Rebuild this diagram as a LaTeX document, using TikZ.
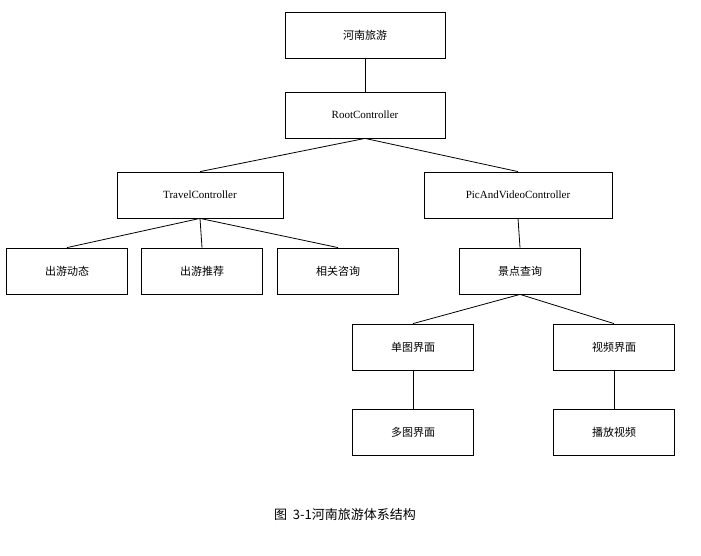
\documentclass[tikz,border=0pt]{standalone}
\usepackage{fontspec}
\setmainfont{Liberation Serif}
\newfontfamily\cjk{Noto Sans CJK SC}
\begin{document}
\begin{tikzpicture}[x=1pt,y=-1pt,
  bx/.style={draw,line width=0.8pt,minimum width=121pt,minimum height=46pt,inner sep=0pt,font=\fontsize{11}{13}\selectfont},
  ln/.style={line width=0.8pt}]
\useasboundingbox (0,0) rectangle (701,556);
\node[bx,minimum width=160pt] (a) at (365,35) {\cjk 河南旅游};
\node[bx,minimum width=160pt] (r) at (365,115) {RootController};
\node[bx,minimum width=166pt] (t) at (200,195) {TravelController};
\node[bx,minimum width=188pt] (p) at (518,195) {PicAndVideoController};
\node[bx] (c1) at (67,271) {\cjk 出游动态};
\node[bx] (c2) at (202,271) {\cjk 出游推荐};
\node[bx] (c3) at (338,271) {\cjk 相关咨询};
\node[bx] (c4) at (520,271) {\cjk 景点查询};
\node[bx] (d1) at (413,347) {\cjk 单图界面};
\node[bx] (d2) at (614,347) {\cjk 视频界面};
\node[bx] (e1) at (413,432) {\cjk 多图界面};
\node[bx] (e2) at (614,432) {\cjk 播放视频};
\draw[ln] (a.south) -- (r.north);
\draw[ln] (r.south) -- (t.north);
\draw[ln] (r.south) -- (p.north);
\draw[ln] (t.south) -- (c1.north);
\draw[ln] (t.south) -- (c2.north);
\draw[ln] (t.south) -- (c3.north);
\draw[ln] (p.south) -- (c4.north);
\draw[ln] (c4.south) -- (d1.north);
\draw[ln] (c4.south) -- (d2.north);
\draw[ln] (d1.south) -- (e1.north);
\draw[ln] (d2.south) -- (e2.north);
\node[font=\fontsize{13}{15}\selectfont] (cap) at (345,515) {\cjk 图\ \ 3-1河南旅游体系结构};
\end{tikzpicture}
\end{document}
